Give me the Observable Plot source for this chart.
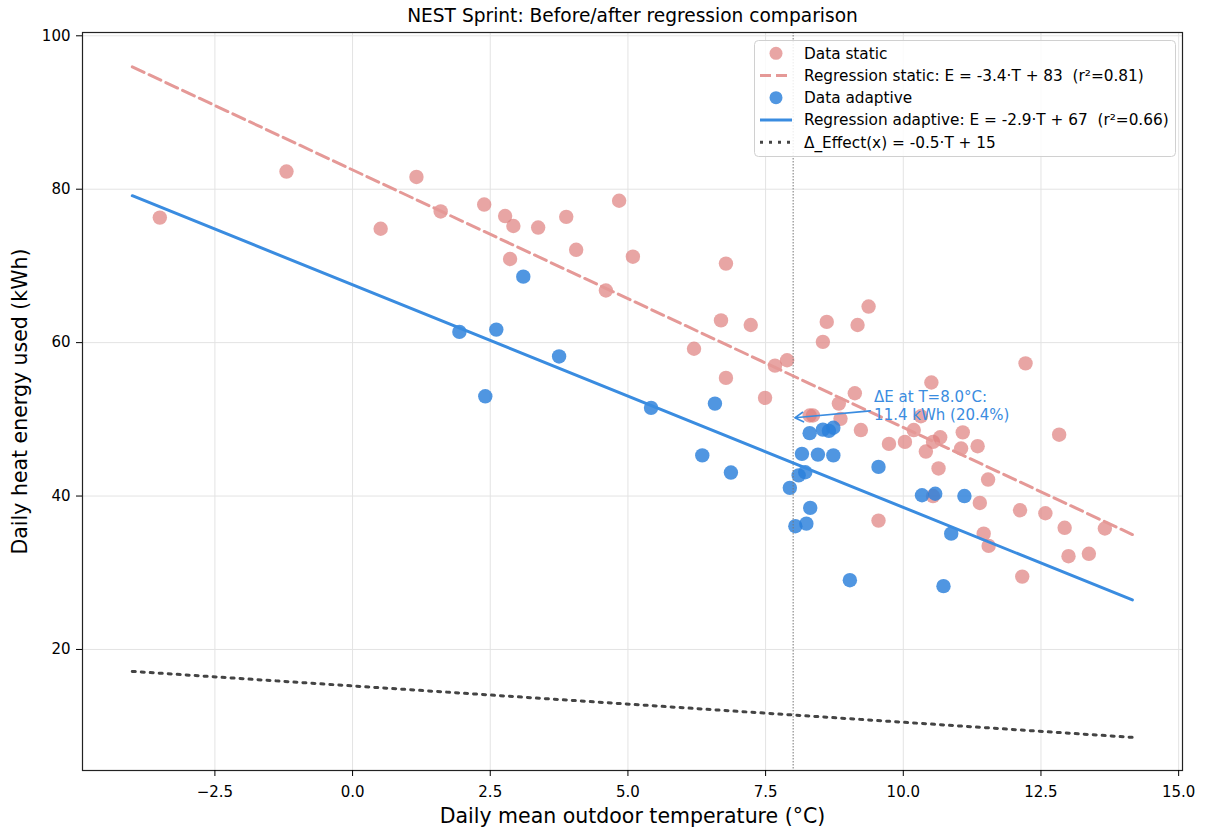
<!DOCTYPE html>
<html><head><meta charset="utf-8">
<script src="https://cdn.jsdelivr.net/npm/d3@7"></script>
<script src="https://cdn.jsdelivr.net/npm/@observablehq/plot@0.6"></script>
<style>
body{margin:0;background:#fff;}
svg{font-family:"DejaVu Sans",sans-serif;}
</style>
</head><body><div id="chart"></div>
<script>
// ---- data ----
const staticT = [-3.50, -1.20, 0.51, 1.16, 1.60, 2.39, 2.77, 2.92, 2.86, 3.37, 3.88, 4.06, 4.84, 4.60, 5.09, 6.20, 6.69, 6.78, 6.78, 7.23, 7.49, 7.67, 7.89, 8.54, 8.61, 9.17, 9.37, 9.12, 8.83, 8.86, 8.30, 8.36, 9.23, 10.51, 10.32, 10.19, 9.74, 10.03, 10.54, 10.67, 10.41, 10.64, 11.08, 11.05, 11.35, 11.54, 10.54, 11.39, 12.12, 12.58, 12.93, 13.66, 11.46, 11.55, 13.00, 13.37, 12.16, 12.83, 12.22, 9.55];
const staticE = [76.3, 82.3, 74.85, 81.6, 77.1, 78.0, 76.5, 75.2, 70.9, 75.0, 76.4, 72.1, 78.5, 66.8, 71.2, 59.2, 62.9, 70.3, 55.4, 62.3, 52.8, 57.0, 57.7, 60.1, 62.7, 62.3, 64.7, 53.4, 52.05, 50.06, 50.5, 50.5, 48.6, 54.8, 50.4, 48.6, 46.8, 47.06, 47.06, 47.66, 45.8, 43.6, 48.3, 46.2, 46.5, 42.15, 40.0, 39.1, 38.15, 37.76, 35.86, 35.77, 35.1, 33.5, 32.16, 32.47, 29.5, 48.0, 57.3, 36.8];
const adaptiveT = [1.94, 2.41, 2.61, 3.10, 3.75, 5.42, 6.35, 6.58, 6.87, 8.30, 8.54, 8.65, 8.73, 8.16, 8.45, 8.73, 9.55, 8.10, 8.22, 7.94, 8.31, 8.04, 8.24, 9.03, 10.34, 10.58, 11.11, 10.87, 10.73];
const adaptiveE = [61.4, 53.0, 61.7, 68.6, 58.2, 51.5, 45.3, 52.05, 43.06, 48.2, 48.66, 48.5, 48.9, 45.5, 45.4, 45.3, 43.8, 42.7, 43.1, 41.07, 38.46, 36.07, 36.4, 29.03, 40.1, 40.3, 40.0, 35.1, 28.25];

const regT = [-4.0, 14.16];
const regStaticE = [95.95, 34.98];
const regAdaptiveE = [79.15, 26.45];
const regDeltaE = [17.14, 8.54];
const markerT = [8.0];

const xTicks = [-2.5, 0, 2.5, 5, 7.5, 10, 12.5, 15];
const yTicks = [20, 40, 60, 80, 100];

const titleText = "NEST Sprint: Before/after regression comparison";
const xLabel = "Daily mean outdoor temperature (°C)";
const yLabel = "Daily heat energy used (kWh)";
const legendLabels = [
  "Data static",
  "Regression static: E = -3.4·T + 83  (r²=0.81)",
  "Data adaptive",
  "Regression adaptive: E = -2.9·T + 67  (r²=0.66)",
  "Δ_Effect(x) = -0.5·T + 15"
];
const annotationText = "ΔE at T=8.0°C:\n11.4 kWh (20.4%)";
const annotationAt = [9.47, 51.8];
const arrowFrom = [9.40, 51.1];
const arrowTo = [8.03, 50.2];

// ---- styles ----
const PINK_PT = "#de7f7d", PINK_LINE = "#e59997";
const BLUE_PT = "#2a7fda", BLUE_LINE = "#3a8ce0";
const DARK = "#444444";
const FONT = '"DejaVu Sans", sans-serif';

const staticData = staticT.map((t, i) => ({T: t, E: staticE[i]}));
const adaptiveData = adaptiveT.map((t, i) => ({T: t, E: adaptiveE[i]}));
const lineStatic = regT.map((t, i) => ({T: t, E: regStaticE[i]}));
const lineAdaptive = regT.map((t, i) => ({T: t, E: regAdaptiveE[i]}));
const lineDelta = regT.map((t, i) => ({T: t, E: regDeltaE[i]}));

const chart = Plot.plot({
  width: 1209, height: 830,
  marginLeft: 82, marginRight: 27, marginTop: 32, marginBottom: 60,
  style: {fontFamily: FONT, fontSize: "15px", color: "#000", background: "#fff"},
  x: {domain: [-4.904, 15.07]},
  y: {domain: [4.22, 100.43]},
  marks: [
    Plot.gridX(xTicks, {stroke: "#e3e3e3", strokeOpacity: 1}),
    Plot.gridY(yTicks, {stroke: "#e3e3e3", strokeOpacity: 1}),
    Plot.dot(staticData, {x: "T", y: "E", r: 7.2, fill: PINK_PT, fillOpacity: 0.7, stroke: null}),
    Plot.dot(adaptiveData, {x: "T", y: "E", r: 7.2, fill: BLUE_PT, fillOpacity: 0.82, stroke: null}),
    Plot.ruleX(markerT, {stroke: "#777", strokeWidth: 1, strokeDasharray: "1.5,1.5"}),
    Plot.line(lineStatic, {x: "T", y: "E", stroke: PINK_LINE, strokeWidth: 3, strokeDasharray: "13,5.5"}),
    Plot.line(lineAdaptive, {x: "T", y: "E", stroke: BLUE_LINE, strokeWidth: 3}),
    Plot.line(lineDelta, {x: "T", y: "E", stroke: DARK, strokeWidth: 3, strokeDasharray: "3,6"}),
    Plot.arrow([0], {x1: () => arrowFrom[0], y1: () => arrowFrom[1], x2: () => arrowTo[0], y2: () => arrowTo[1],
      stroke: BLUE_LINE, strokeWidth: 1.6, headLength: 9}),
    Plot.text([annotationText], {x: () => annotationAt[0], y: () => annotationAt[1], text: d => d,
      textAnchor: "start", lineAnchor: "middle", fill: BLUE_LINE, fontSize: 15, lineHeight: 1.18}),
    Plot.frame({stroke: "#222", strokeWidth: 1.2}),
    Plot.axisX(xTicks, {tickFormat: d3.format(".1f"), tickSize: 6, tickPadding: 10, fontSize: 15, label: null}),
    Plot.axisY(yTicks, {tickFormat: d3.format("d"), tickSize: 6, tickPadding: 6, fontSize: 15, label: null}),
    Plot.text([xLabel], {frameAnchor: "bottom", dy: 46, lineAnchor: "middle", textAnchor: "middle", fontSize: 20.5, text: d => d}),
    Plot.text([yLabel], {frameAnchor: "left", dx: -62, rotate: -90, lineAnchor: "middle", textAnchor: "middle", fontSize: 20.5, text: d => d}),
    Plot.text([titleText], {frameAnchor: "top", dy: -16, lineAnchor: "middle", textAnchor: "middle", fontSize: 18.6, text: d => d})
  ]
});
document.getElementById("chart").appendChild(chart);

// ---- legend ----
const svg = d3.select(chart);
const lg = svg.append("g").attr("font-family", FONT).attr("font-size", 15.3).attr("text-anchor", "start");
lg.append("rect").attr("x", 754.5).attr("y", 40.5).attr("width", 421).attr("height", 116)
  .attr("rx", 4).attr("fill", "#fff").attr("fill-opacity", 0.85).attr("stroke", "#d0d0d0");
const rowY = [53.3, 75.5, 97.7, 120, 142.3];
const lx0 = 760, lx1 = 792, lxc = 776, ltx = 804;
lg.append("circle").attr("cx", lxc).attr("cy", rowY[0]).attr("r", 6.5).attr("fill", PINK_PT).attr("fill-opacity", 0.7);
lg.append("line").attr("x1", lx0).attr("x2", lx1).attr("y1", rowY[1]).attr("y2", rowY[1])
  .attr("stroke", PINK_LINE).attr("stroke-width", 3).attr("stroke-dasharray", "11,5");
lg.append("circle").attr("cx", lxc).attr("cy", rowY[2]).attr("r", 6.5).attr("fill", BLUE_PT).attr("fill-opacity", 0.82);
lg.append("line").attr("x1", lx0).attr("x2", lx1).attr("y1", rowY[3]).attr("y2", rowY[3])
  .attr("stroke", BLUE_LINE).attr("stroke-width", 3);
lg.append("line").attr("x1", lx0).attr("x2", lx1).attr("y1", rowY[4]).attr("y2", rowY[4])
  .attr("stroke", DARK).attr("stroke-width", 3).attr("stroke-dasharray", "3,6");
legendLabels.forEach((t, i) => {
  lg.append("text").attr("x", ltx).attr("y", rowY[i]).attr("dy", "0.35em")
    .attr("text-anchor", "start").style("white-space", "pre").attr("fill", "#000").text(t);
});
</script>
</body></html>
